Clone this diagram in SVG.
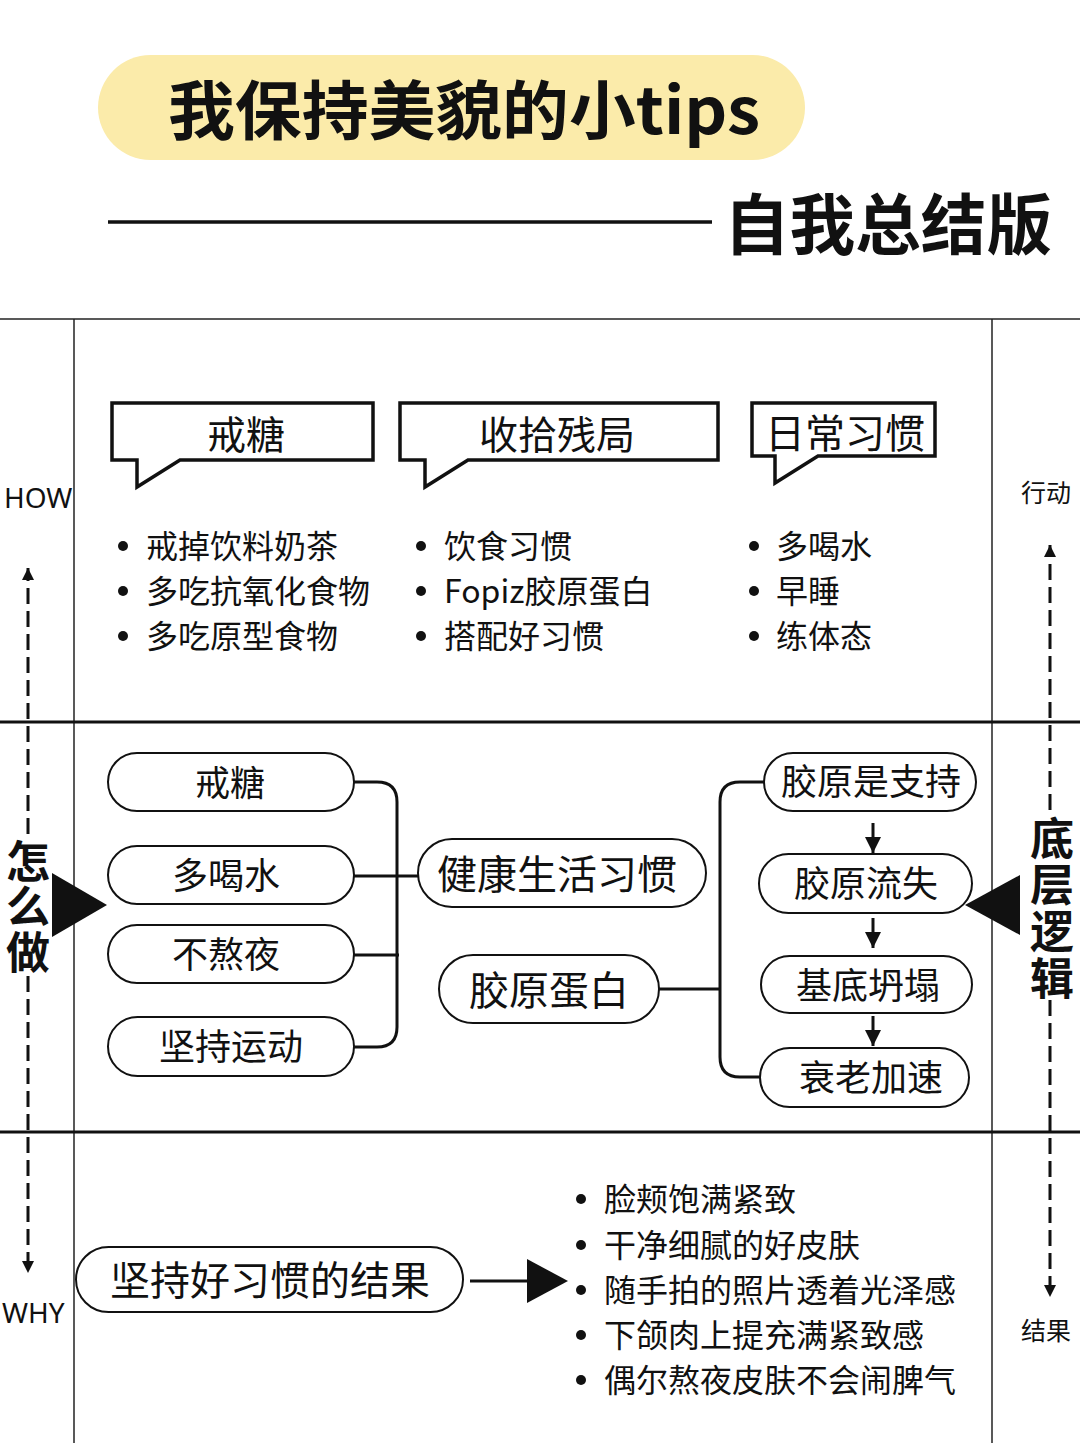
<svg xmlns="http://www.w3.org/2000/svg" width="1080" height="1443" viewBox="0 0 1080 1443">
<defs>
<style>
.t{font-family:"Noto Sans CJK SC","Noto Sans",sans-serif;fill:#111;dominant-baseline:central}
.c{text-anchor:middle}
.b{font-weight:bold}
.v{font-weight:bold;font-size:44px;text-anchor:middle}
.en{font-family:"Noto Sans","Liberation Sans",sans-serif;fill:#111;dominant-baseline:central;font-size:28px}
.bub{fill:#fff;stroke:#111;stroke-width:3.5;stroke-linejoin:miter}
.pill{fill:#fff;stroke:#111;stroke-width:2}
.con{fill:none;stroke:#111;stroke-width:3}
.grid{stroke:#222;stroke-width:1.5}
.gridb{stroke:#111;stroke-width:3}
.dash{stroke:#111;stroke-width:3;stroke-dasharray:16 7;fill:none}
.dot{fill:#111}
</style>
<marker id="ah" viewBox="0 0 12 12" refX="12" refY="6" markerWidth="12" markerHeight="12" markerUnits="userSpaceOnUse" orient="auto">
<path d="M0,0 L12,6 L0,12 Z" fill="#111"/>
</marker>
<marker id="ah2" viewBox="0 0 16 16" refX="16" refY="8" markerWidth="16" markerHeight="16" markerUnits="userSpaceOnUse" orient="auto">
<path d="M0,0 L16,8 L0,16 Z" fill="#111"/>
</marker>
</defs>
<rect width="1080" height="1443" fill="#fff"/>

<g id="title">
<rect x="98" y="55" width="707" height="105" rx="52.5" fill="#FBEBAA"/>
<text class="t b" x="168" y="106" font-size="64" textLength="592" lengthAdjust="spacingAndGlyphs">我保持美貌的小tips</text>
<line x1="108" y1="222" x2="712" y2="222" stroke="#111" stroke-width="3.5"/>
<text class="t b" x="724" y="220" font-size="66" textLength="328" lengthAdjust="spacingAndGlyphs">自我总结版</text>
</g>

<g id="grid">
<line class="grid" x1="0" y1="319" x2="1080" y2="319"/>
<line class="grid" x1="74" y1="319" x2="74" y2="1443"/>
<line class="grid" x1="992" y1="319" x2="992" y2="1443"/>
<line class="gridb" x1="0" y1="722" x2="1080" y2="722"/>
<line class="gridb" x1="0" y1="1132" x2="1080" y2="1132"/>
</g>

<g id="axis-left">
<text class="en" x="4" y="497">HOW</text>
<text class="en" x="2" y="1312">WHY</text>
<text class="t v"><tspan x="28" y="859">怎</tspan><tspan x="28" y="904">么</tspan><tspan x="28" y="950">做</tspan></text>
<polygon points="52,873 52,937 107,905" fill="#111"/>
</g>

<g id="axis-right">
<text class="t c" x="1046" y="491" font-size="25">行动</text>
<text class="t c" x="1046" y="1329" font-size="25">结果</text>
<text class="t v"><tspan x="1052" y="836">底</tspan><tspan x="1052" y="882">层</tspan><tspan x="1052" y="929">逻</tspan><tspan x="1052" y="976">辑</tspan></text>
<polygon points="1020,875 1020,935 965,905" fill="#111"/>
</g>

<g id="connectors">
<line class="dash" x1="28" y1="834" x2="28" y2="568" marker-end="url(#ah)"/>
<line class="dash" x1="28" y1="976" x2="28" y2="1273" marker-end="url(#ah)"/>
<line class="dash" x1="1050" y1="810" x2="1050" y2="545" marker-end="url(#ah)"/>
<line class="dash" x1="1050" y1="1000" x2="1050" y2="1297" marker-end="url(#ah)"/>
<path class="con" d="M354,782 H377 Q397,782 397,802 V1027 Q397,1047 377,1047 H354"/>
<path class="con" d="M354,876 H418"/>
<path class="con" d="M354,955 H399"/>
<path class="con" d="M764,782 H740 Q720,782 720,802 V1057 Q720,1077 740,1077 H760"/>
<path class="con" d="M659,989 H720"/>
<line class="con" x1="873" y1="823" x2="873" y2="853" marker-end="url(#ah2)"/>
<line class="con" x1="873" y1="918" x2="873" y2="948" marker-end="url(#ah2)"/>
<line class="con" x1="873" y1="1016" x2="873" y2="1046" marker-end="url(#ah2)"/>
<line class="con" x1="470" y1="1281" x2="530" y2="1281"/>
<polygon points="527,1259 527,1303 568,1281" fill="#111"/>
</g>

<g id="bubble-1">
<path class="bub" d="M112,403 H373 V460 H180 L137,487 V460 H112 Z"/>
<text class="t c" x="246" y="432" font-size="39">戒糖</text>
</g>
<g id="bubble-2">
<path class="bub" d="M400,403 H718 V460 H468 L425,487 V460 H400 Z"/>
<text class="t c" x="557" y="432" font-size="39">收拾残局</text>
</g>
<g id="bubble-3">
<path class="bub" d="M752,403 H935 V456 H818 L775,483 V456 H752 Z"/>
<text class="t c" x="845" y="431" font-size="40">日常习惯</text>
</g>

<g id="list-1">
<circle class="dot" cx="123" cy="546" r="5"/><text class="t" x="146" y="544" font-size="32">戒掉饮料奶茶</text>
<circle class="dot" cx="123" cy="591" r="5"/><text class="t" x="146" y="589" font-size="32">多吃抗氧化食物</text>
<circle class="dot" cx="123" cy="636" r="5"/><text class="t" x="146" y="634" font-size="32">多吃原型食物</text>
</g>
<g id="list-2">
<circle class="dot" cx="421" cy="546" r="5"/><text class="t" x="444" y="544" font-size="32">饮食习惯</text>
<circle class="dot" cx="421" cy="591" r="5"/><text class="t" x="444" y="589" font-size="32">Fopiz胶原蛋白</text>
<circle class="dot" cx="421" cy="636" r="5"/><text class="t" x="444" y="634" font-size="32">搭配好习惯</text>
</g>
<g id="list-3">
<circle class="dot" cx="754" cy="546" r="5"/><text class="t" x="776" y="544" font-size="32">多喝水</text>
<circle class="dot" cx="754" cy="591" r="5"/><text class="t" x="776" y="589" font-size="32">早睡</text>
<circle class="dot" cx="754" cy="636" r="5"/><text class="t" x="776" y="634" font-size="32">练体态</text>
</g>

<g id="node-jietang">
<rect class="pill" x="108" y="753" width="246" height="58" rx="29"/>
<text class="t c" x="230" y="780" font-size="35">戒糖</text>
</g>
<g id="node-heshui">
<rect class="pill" x="108" y="846" width="246" height="58" rx="29"/>
<text class="t c" x="226" y="873" font-size="36">多喝水</text>
</g>
<g id="node-buaoye">
<rect class="pill" x="108" y="925" width="246" height="58" rx="29"/>
<text class="t c" x="226" y="952" font-size="36">不熬夜</text>
</g>
<g id="node-yundong">
<rect class="pill" x="108" y="1017" width="246" height="59" rx="29.5"/>
<text class="t c" x="231" y="1044" font-size="36">坚持运动</text>
</g>
<g id="node-jiankang">
<rect class="pill" x="418" y="839" width="288" height="68" rx="34"/>
<text class="t c" x="557" y="872" font-size="40">健康生活习惯</text>
</g>
<g id="node-danbai">
<rect class="pill" x="439" y="955" width="220" height="68" rx="34"/>
<text class="t c" x="549" y="988" font-size="40">胶原蛋白</text>
</g>
<g id="node-zhichi">
<rect class="pill" x="764" y="753" width="212" height="58" rx="29"/>
<text class="t c" x="871" y="779" font-size="36">胶原是支持</text>
</g>
<g id="node-liushi">
<rect class="pill" x="759" y="854" width="213" height="59" rx="29.5"/>
<text class="t c" x="866" y="881" font-size="36">胶原流失</text>
</g>
<g id="node-tanta">
<rect class="pill" x="761" y="956" width="211" height="57" rx="28.5"/>
<text class="t c" x="868" y="983" font-size="36">基底坍塌</text>
</g>
<g id="node-shuailao">
<rect class="pill" x="760" y="1048" width="209" height="59" rx="29.5"/>
<text class="t c" x="871" y="1075" font-size="36">衰老加速</text>
</g>

<g id="node-jieguo">
<rect class="pill" x="76" y="1247" width="387" height="65" rx="32.5"/>
<text class="t c" x="270" y="1278" font-size="40">坚持好习惯的结果</text>
</g>
<g id="list-results">
<circle class="dot" cx="581" cy="1199" r="5"/><text class="t" x="604" y="1197" font-size="32">脸颊饱满紧致</text>
<circle class="dot" cx="581" cy="1245" r="5"/><text class="t" x="604" y="1243" font-size="32">干净细腻的好皮肤</text>
<circle class="dot" cx="581" cy="1290" r="5"/><text class="t" x="604" y="1288" font-size="32">随手拍的照片透着光泽感</text>
<circle class="dot" cx="581" cy="1335" r="5"/><text class="t" x="604" y="1333" font-size="32">下颌肉上提充满紧致感</text>
<circle class="dot" cx="581" cy="1380" r="5"/><text class="t" x="604" y="1378" font-size="32">偶尔熬夜皮肤不会闹脾气</text>
</g>
</svg>
